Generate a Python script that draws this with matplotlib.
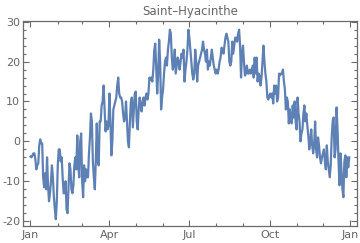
import pandas as pd
import matplotlib
matplotlib.use("Agg")
import matplotlib.pyplot as plt
import matplotlib.dates as mdates
from matplotlib.ticker import MultipleLocator

title = "Saint–Hyacinthe"
start, end = "2015-01-01", "2015-12-31"

# daily mean temperature (degC)
temps = [
    -3.8, -4, -3.5, -3, -3, -4.5, -7, -6, -5.5, -1, 0.5, -0.5, -0.5, -9, -11.5, -8,
    -12, -4, -11, -15, -13, -10, -6, -9, -14, -17, -19.5, -15, -6, -2, -2, -5,
    -4, -9, -13, -13, -10, -17, -18, -12, -5.5, -7, -12, -13, -11, -6, -4, -7,
    1.5, -6, -9, 0, 2, -10, -14, -6, -10, -7, -9, -9, -3, 1, 7, 5,
    -5, -9, -12, -5, 4.5, -5, -6, 5, 5, 9, 10, 14, 8, 2.5, 5, 3,
    4, 12, 5, -3.5, 0, 8, 9, 10, 11, 14, 16, 12, 11, 11, 10, 7,
    5, 6, 10, 5, 0, -1.5, 5, 10, 11, 3.5, 8, 12, 12.5, 5, 3, 8,
    11, 9, 7.5, 10, 11, 9, 11, 12, 10.5, 12, 16, 15.5, 16, 15, 18, 23,
    24.5, 18, 12, 17, 25.5, 20, 8, 11, 13, 17, 20, 21, 19, 23, 25, 28,
    27, 21, 18, 19.5, 23, 17, 19, 21, 20, 18, 20, 22, 21, 23, 15, 18,
    20, 23, 28, 26, 23, 20, 17, 15.5, 17, 23, 20, 15, 19, 20, 21, 22,
    23, 25, 23, 22, 20, 23, 18, 20, 19, 21, 23, 21, 19, 18, 17, 18,
    17, 18, 20, 21, 23.5, 23, 22, 24, 26, 27, 26, 25, 20, 19, 20, 25,
    22, 24, 26, 26, 25, 27, 28, 24, 16, 22, 24, 20, 16.5, 17, 19, 17,
    17, 18, 17, 18, 19, 16, 21, 17, 21, 15, 17, 16.5, 14, 16, 20, 24,
    20, 17, 15, 11, 10.5, 11.5, 12, 11, 12, 9.5, 14, 12, 14, 10, 11, 17,
    16.5, 17, 17, 18, 15, 13, 8, 11, 10, 4.5, 8, 5, 4.5, 9, 6, 10,
    5, 3, 11, 7, 5, 0, 2, 3, 7, 9, 5, 7, 4, 1.5, -2, 0,
    3, -1, -3, -1, 5, -2, -4, 1, -1, -4, -5.5, -4, -3, -2, -5, -7,
    -1, -5, -7, -9, -6, 1, 5, 6, -4, -2, 8.5, 3, -5, -11, -3, -7,
    -12, -14, -5, -3.5, -9, -4, -6.5, -4,
]
dates = pd.date_range(start, end, periods=len(temps))

line_color = "#5e81b5"
frame_color = "#6b6b6b"
text_color = "#666666"

plt.rcParams["axes.unicode_minus"] = False

fig = plt.figure(figsize=(3.6, 2.43), dpi=100)
ax = fig.add_axes([0.064, 0.070, 0.928, 0.844])
ax.plot(dates, temps, color=line_color, lw=1.6, solid_joinstyle="round")

t0 = pd.Timestamp(start)
ax.set_xlim(t0 - pd.Timedelta(days=8.5), t0 + pd.Timedelta(days=373))
ax.set_ylim(-21.2, 30.2)

ax.xaxis.set_major_locator(mdates.MonthLocator(bymonth=[1, 4, 7, 10]))
ax.xaxis.set_minor_locator(mdates.MonthLocator())
ax.xaxis.set_major_formatter(mdates.DateFormatter("%b"))
ax.yaxis.set_major_locator(MultipleLocator(10))
ax.yaxis.set_minor_locator(MultipleLocator(2))

ax.tick_params(which="both", direction="in", top=True, right=True,
               color=frame_color, labelcolor=text_color, labelsize=8, width=0.8)
ax.tick_params(axis="y", which="major", length=4, pad=2)
ax.tick_params(axis="x", which="major", length=4, pad=3)
ax.tick_params(which="minor", length=2.2)
for s in ax.spines.values():
    s.set_color(frame_color)
    s.set_linewidth(0.9)

ax.set_title(title, color=text_color, fontsize=8.5, pad=4)

fig.savefig("out.png", dpi=100)
